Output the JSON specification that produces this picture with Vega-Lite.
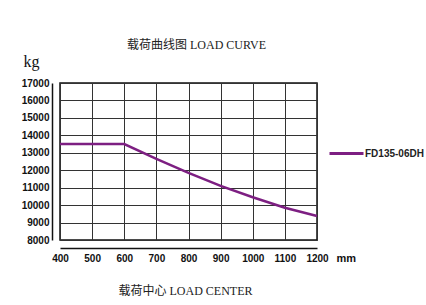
{
  "$schema": "https://vega.github.io/schema/vega-lite/v6.json",
  "width": 257,
  "height": 157,
  "autosize": {"type": "none"},
  "padding": {"left": 60, "top": 83, "right": 109, "bottom": 65},
  "background": "white",
  "title": {
    "text": "载荷曲线图 LOAD CURVE",
    "font": "Liberation Serif, Noto Sans CJK SC",
    "fontSize": 12,
    "fontWeight": "normal",
    "color": "#222",
    "anchor": "middle",
    "frame": "group",
    "dx": 8,
    "offset": 1
  },
  "config": {
    "view": {"stroke": "#111", "strokeWidth": 1.5},
    "axis": {
      "labelFont": "Liberation Sans Narrow, Liberation Sans",
      "labelFontWeight": "bold",
      "labelFontSize": 10,
      "labelColor": "#111",
      "labelOverlap": false,
      "labelFlush": false,
      "gridColor": "#333",
      "gridOpacity": 1,
      "gridWidth": 1,
      "domainColor": "#111",
      "domainWidth": 1.5,
      "ticks": false
    }
  },
  "data": {
    "values": [
      {"center": 400, "load": 13500, "model": "FD135-06DH"},
      {"center": 600, "load": 13500, "model": "FD135-06DH"},
      {"center": 700, "load": 12650, "model": "FD135-06DH"},
      {"center": 800, "load": 11850, "model": "FD135-06DH"},
      {"center": 900, "load": 11100, "model": "FD135-06DH"},
      {"center": 1000, "load": 10450, "model": "FD135-06DH"},
      {"center": 1100, "load": 9850, "model": "FD135-06DH"},
      {"center": 1200, "load": 9380, "model": "FD135-06DH"}
    ]
  },
  "encoding": {
    "y": {
      "field": "load", "type": "quantitative",
      "scale": {"domain": [8000, 17000], "nice": false, "zero": false},
      "axis": {
        "values": [8000, 9000, 10000, 11000, 12000, 13000, 14000, 15000, 16000, 17000],
        "format": "d",
        "offset": 8,
        "labelPadding": 3,
        "title": "kg",
        "titleFont": "Liberation Serif",
        "titleFontSize": 16,
        "titleFontWeight": "normal",
        "titleColor": "#111",
        "titleAngle": 0,
        "titleX": -29,
        "titleY": -22,
        "titleAlign": "left",
        "titleBaseline": "middle"
      }
    }
  },
  "resolve": {"axis": {"x": "independent"}},
  "layer": [
    {
      "mark": {"type": "line", "strokeWidth": 2.5},
      "encoding": {
        "x": {
          "field": "center", "type": "quantitative",
          "scale": {"domain": [400, 1200], "nice": false, "zero": false},
          "axis": {
            "values": [400, 500, 600, 700, 800, 900, 1000, 1100, 1200],
            "format": "d",
            "offset": 8,
            "labelPadding": 5,
            "title": "载荷中心 LOAD CENTER",
            "titleFont": "Liberation Serif, Noto Sans CJK SC",
            "titleFontSize": 12,
            "titleFontWeight": "normal",
            "titleColor": "#222",
            "titleX": 125,
            "titleY": 42,
            "titleAlign": "center",
            "titleBaseline": "middle"
          }
        },
        "color": {
          "field": "model", "type": "nominal",
          "scale": {"range": ["#7d1f82"]},
          "legend": {
            "title": null,
            "orient": "none",
            "legendX": 268,
            "legendY": 52,
            "symbolType": "stroke",
            "symbolSize": 1156,
            "symbolStrokeWidth": 3,
            "labelFont": "Liberation Sans Narrow, Liberation Sans",
            "labelFontWeight": "bold",
            "labelFontSize": 10,
            "labelColor": "#222",
            "labelOffset": 0
          }
        }
      }
    },
    {
      "mark": {"type": "line", "opacity": 0},
      "encoding": {
        "x": {
          "field": "center", "type": "quantitative",
          "axis": {
            "orient": "bottom",
            "offset": 8,
            "domain": false,
            "labels": false,
            "ticks": false,
            "grid": false,
            "title": "mm",
            "titleFont": "Liberation Sans",
            "titleFontSize": 11,
            "titleFontWeight": "bold",
            "titleColor": "#111",
            "titleX": 276,
            "titleY": 10,
            "titleAlign": "left",
            "titleBaseline": "middle"
          }
        }
      }
    }
  ]
}
